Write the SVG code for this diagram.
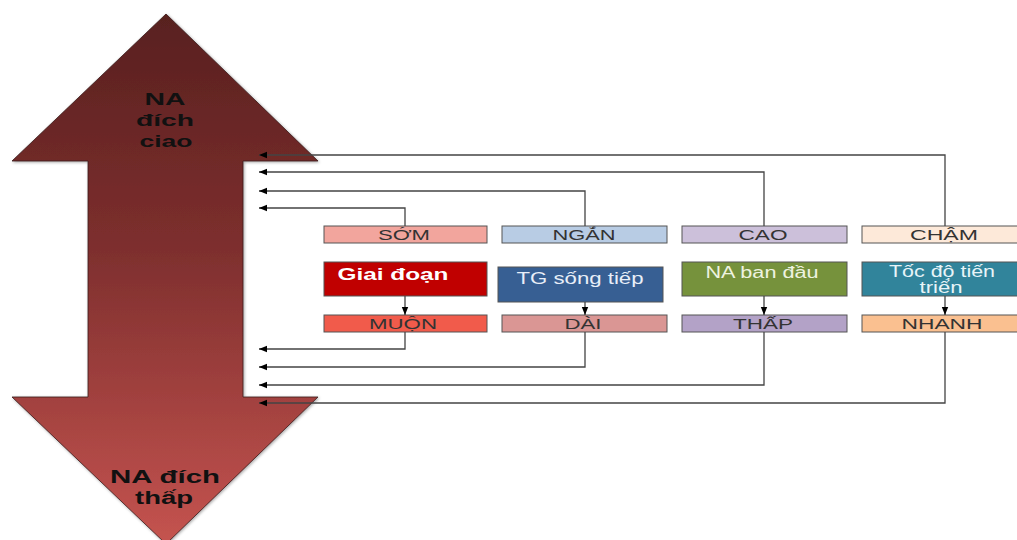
<svg xmlns="http://www.w3.org/2000/svg" width="1017" height="540" viewBox="0 0 1017 540">
<defs>
<linearGradient id="g" x1="0" y1="14" x2="0" y2="540" gradientUnits="userSpaceOnUse">
<stop offset="0" stop-color="#58201f"/>
<stop offset="0.45" stop-color="#7e2f2e"/>
<stop offset="1" stop-color="#c4534f"/>
</linearGradient>
<filter id="sh" x="-10%" y="-10%" width="120%" height="120%">
<feDropShadow dx="1" dy="1" stdDeviation="1.5" flood-color="#000" flood-opacity="0.35"/>
</filter>
<marker id="ah" viewBox="0 0 10 10" refX="10" refY="5" markerWidth="8" markerHeight="8" markerUnits="userSpaceOnUse" orient="auto">
<path d="M0,1 L10,5 L0,9 Z" fill="#000"/>
</marker>
<style>
.big{font-family:"Liberation Sans",Arial,sans-serif;font-weight:bold;font-size:18px;fill:#111;text-anchor:middle}
.sm{font-size:16px}
.lbl{font-family:"Liberation Sans",Arial,sans-serif;font-size:14px;fill:#333;text-anchor:middle}
.mid{font-family:"Liberation Sans",Arial,sans-serif;font-size:16px;text-anchor:middle}
.box{stroke:#555;stroke-width:1}
.ca{fill:none;stroke:#444;stroke-width:1.3;marker-end:url(#ah)}
</style>
</defs>
<rect width="1017" height="540" fill="#fff"/>
<g id="double-arrow">
<path d="M166,14 L318,161 L243,161 L243,397 L318,397 L166,544 L12,397 L88,397 L88,161 L12,161 Z" fill="url(#g)" stroke="#3a1a1a" stroke-width="0.8" filter="url(#sh)"/>
<text class="big sm" x="165" y="105" textLength="41" lengthAdjust="spacingAndGlyphs">NA</text>
<text class="big sm" x="165" y="126" textLength="58" lengthAdjust="spacingAndGlyphs">đích</text>
<text class="big sm" x="166" y="147" textLength="53" lengthAdjust="spacingAndGlyphs">ciao</text>
<text class="big" x="165" y="483" textLength="110" lengthAdjust="spacingAndGlyphs">NA đích</text>
<text class="big" x="164" y="504" textLength="58" lengthAdjust="spacingAndGlyphs">thấp</text>
</g>
<g id="n-som"><rect class="box" x="324" y="226" width="163" height="17" fill="#f2a59d"/><text class="lbl" x="404" y="240" textLength="52" lengthAdjust="spacingAndGlyphs">SỚM</text></g>
<g id="n-ngan"><rect class="box" x="502" y="226" width="165" height="17" fill="#b8cce4"/><text class="lbl" x="584" y="240" textLength="63" lengthAdjust="spacingAndGlyphs">NGẮN</text></g>
<g id="n-cao"><rect class="box" x="682" y="226" width="165" height="17" fill="#ccc0da"/><text class="lbl" x="763" y="240" textLength="49" lengthAdjust="spacingAndGlyphs">CAO</text></g>
<g id="n-cham"><rect class="box" x="862" y="226" width="165" height="17" fill="#fde9d9"/><text class="lbl" x="944" y="240" textLength="68" lengthAdjust="spacingAndGlyphs">CHẬM</text></g>
<g id="n-giaidoan"><rect class="box" x="324" y="262" width="163" height="34" fill="#c00000"/><text class="mid" x="393" y="280" fill="#fff" font-weight="bold" textLength="111" lengthAdjust="spacingAndGlyphs">Giai đoạn</text></g>
<g id="n-tg"><rect class="box" x="498" y="267" width="165" height="35" fill="#375f93"/><text class="mid" x="580" y="284" fill="#e8eef8" textLength="127" lengthAdjust="spacingAndGlyphs">TG sống tiếp</text></g>
<g id="n-na"><rect class="box" x="682" y="262" width="165" height="34" fill="#76923c"/><text class="mid" x="762" y="278" fill="#eef3e0" textLength="113" lengthAdjust="spacingAndGlyphs">NA ban đầu</text></g>
<g id="n-toc"><rect class="box" x="862" y="262" width="165" height="34" fill="#31849b"/><text class="mid" x="942" y="277" fill="#e8f4f8" textLength="106" lengthAdjust="spacingAndGlyphs">Tốc độ tiến</text><text class="mid" x="941" y="293" fill="#e8f4f8" textLength="43" lengthAdjust="spacingAndGlyphs">triển</text></g>
<g id="n-muon"><rect class="box" x="324" y="315" width="163" height="17" fill="#f15b4b"/><text class="lbl" x="403" y="329" textLength="68" lengthAdjust="spacingAndGlyphs">MUỘN</text></g>
<g id="n-dai"><rect class="box" x="502" y="315" width="165" height="17" fill="#da9694"/><text class="lbl" x="583" y="329" textLength="37" lengthAdjust="spacingAndGlyphs">DÀI</text></g>
<g id="n-thap"><rect class="box" x="682" y="315" width="165" height="17" fill="#b3a2c7"/><text class="lbl" x="763" y="329" textLength="60" lengthAdjust="spacingAndGlyphs">THẤP</text></g>
<g id="n-nhanh"><rect class="box" x="862" y="315" width="165" height="17" fill="#fac090"/><text class="lbl" x="942" y="329" textLength="81" lengthAdjust="spacingAndGlyphs">NHANH</text></g>
<g id="connectors">
<path class="ca" d="M945,226 V155 H259"/>
<path class="ca" d="M764,226 V172 H259"/>
<path class="ca" d="M585,226 V191 H259"/>
<path class="ca" d="M405,226 V208 H259"/>
<path class="ca" d="M405,332 V349 H259"/>
<path class="ca" d="M585,332 V367 H259"/>
<path class="ca" d="M764,332 V385 H259"/>
<path class="ca" d="M945,332 V403 H259"/>
<path class="ca" d="M405,296 V315"/>
<path class="ca" d="M585,302 V315"/>
<path class="ca" d="M764,296 V315"/>
<path class="ca" d="M945,296 V315"/>
</g>
</svg>
